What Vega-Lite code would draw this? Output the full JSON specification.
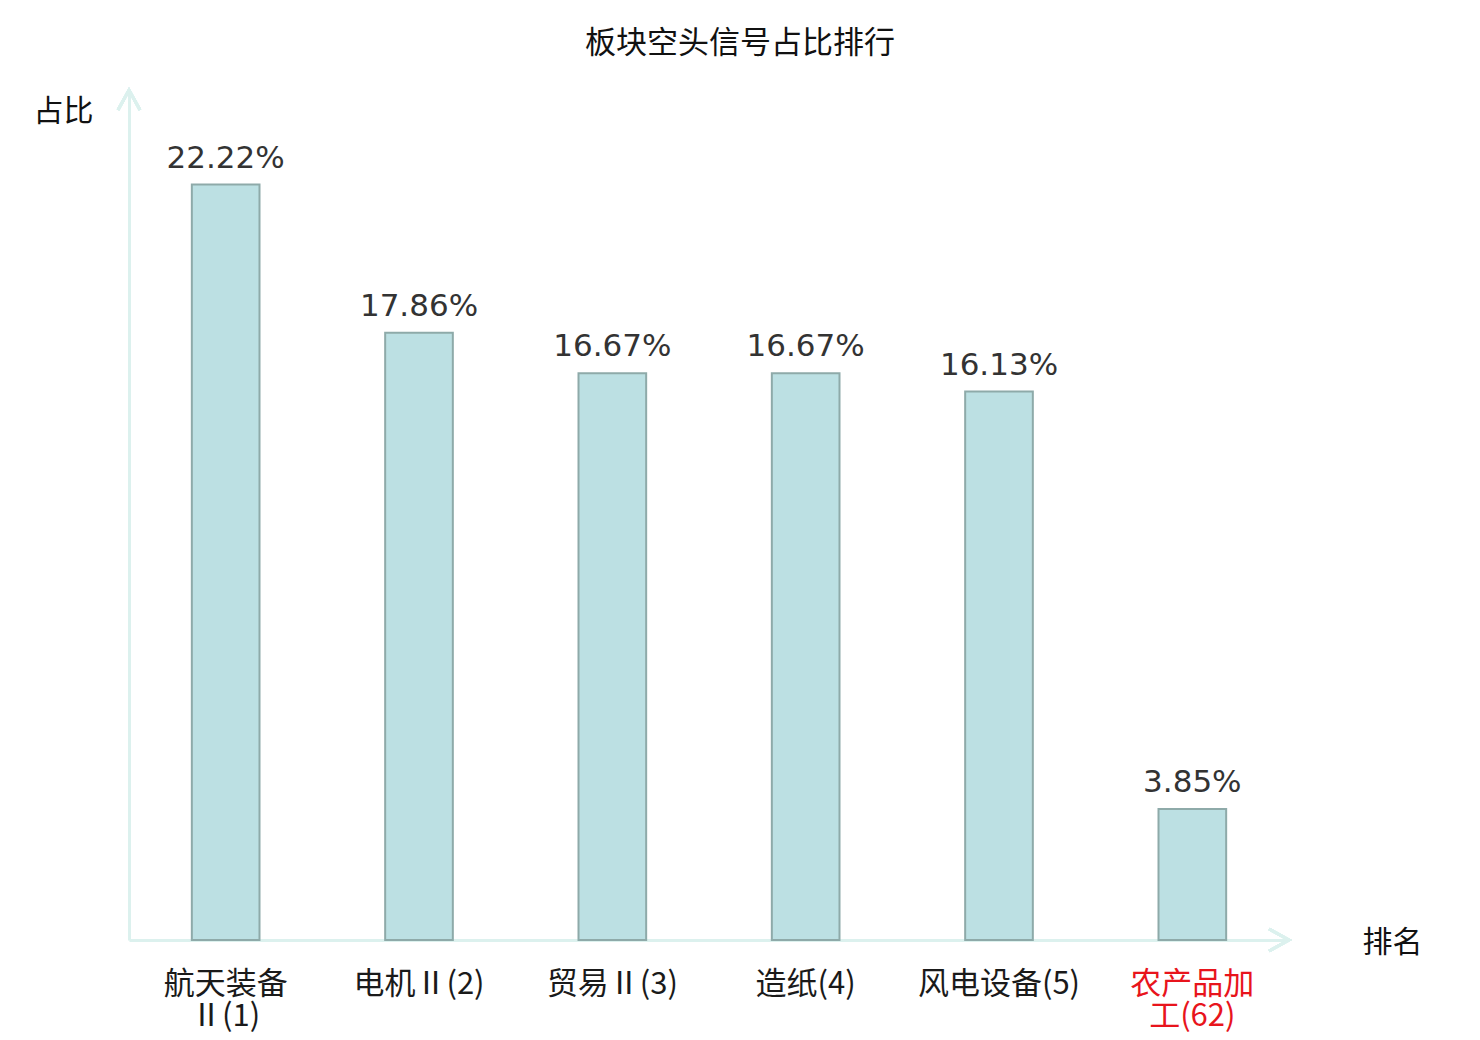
{
  "$schema": "https://vega.github.io/schema/vega-lite/v6.json",
  "width": 1160,
  "height": 850,
  "autosize": {"type": "none"},
  "padding": {"left": 129, "top": 90, "right": 191, "bottom": 100},
  "background": "white",
  "title": {
    "text": "板块空头信号占比排行",
    "font": "Noto Sans CJK SC",
    "fontSize": 31,
    "fontWeight": "normal",
    "color": "#111111",
    "anchor": "middle",
    "dx": 31,
    "offset": 24
  },
  "data": {
    "values": [
      {"name": "航天装备Ⅱ(1)", "pct": 22.22, "label": "22.22%"},
      {"name": "电机Ⅱ(2)", "pct": 17.86, "label": "17.86%"},
      {"name": "贸易Ⅱ(3)", "pct": 16.67, "label": "16.67%"},
      {"name": "造纸(4)", "pct": 16.67, "label": "16.67%"},
      {"name": "风电设备(5)", "pct": 16.13, "label": "16.13%"},
      {"name": "农产品加工(62)", "pct": 3.85, "label": "3.85%"}
    ]
  },
  "config": {
    "view": {"stroke": null},
    "axis": {"grid": false}
  },
  "layer": [
    {
      "mark": {"type": "bar", "fill": "#bce0e3", "stroke": "#8eaaa9", "strokeWidth": 2},
      "encoding": {
        "x": {
          "field": "name",
          "type": "nominal",
          "sort": null,
          "scale": {"paddingInner": 0.65, "paddingOuter": 0.325},
          "axis": {
            "title": "排名",
            "titleFont": "Noto Sans CJK SC",
            "titleFontSize": 30,
            "titleFontWeight": "normal",
            "titleColor": "#111111",
            "titleX": 1263,
            "titleY": 2,
            "titleAlign": "center",
            "titleBaseline": "middle",
            "labelAngle": 0,
            "labelFont": "Noto Sans CJK SC",
            "labelFontSize": 31,
            "labelColor": {"condition": {"test": "datum.value == '农产品加工(62)'", "value": "#e8141c"}, "value": "#1a1a1a"},
            "labelPadding": 29,
            "labelLineHeight": 32,
            "labelExpr": "length(datum.label) > 7 ? [substring(datum.label, 0, 4), substring(datum.label, 4)] : datum.label",
            "ticks": false,
            "domainColor": "#dcf1ee",
            "domainWidth": 3
          }
        },
        "y": {
          "field": "pct",
          "type": "quantitative",
          "scale": {"domain": [0, 25], "nice": false},
          "axis": {
            "title": "占比",
            "titleFont": "Noto Sans CJK SC",
            "titleFontSize": 30,
            "titleFontWeight": "normal",
            "titleColor": "#111111",
            "titleAngle": 0,
            "titleX": -66,
            "titleY": 21,
            "titleAlign": "center",
            "titleBaseline": "middle",
            "labels": false,
            "ticks": false,
            "domainColor": "#dcf1ee",
            "domainWidth": 3
          }
        }
      }
    },
    {
      "mark": {"type": "text", "font": "DejaVu Sans", "fontSize": 31, "color": "#333333", "baseline": "alphabetic", "dy": -17},
      "encoding": {
        "x": {"field": "name", "type": "nominal", "sort": null},
        "y": {"field": "pct", "type": "quantitative"},
        "text": {"field": "label"}
      }
    },
    {
      "mark": {"type": "point", "shape": "M -1 1.818 L 0 0 L 1 1.818", "size": 484, "filled": false, "stroke": "#dcf1ee", "strokeWidth": 3, "opacity": 1},
      "encoding": {
        "x": {"value": 0},
        "y": {"value": 0}
      }
    },
    {
      "mark": {"type": "point", "shape": "M -1.818 -1 L 0 0 L -1.818 1", "size": 484, "filled": false, "stroke": "#dcf1ee", "strokeWidth": 3, "opacity": 1},
      "encoding": {
        "x": {"value": "width"},
        "y": {"value": "height"}
      }
    }
  ]
}
